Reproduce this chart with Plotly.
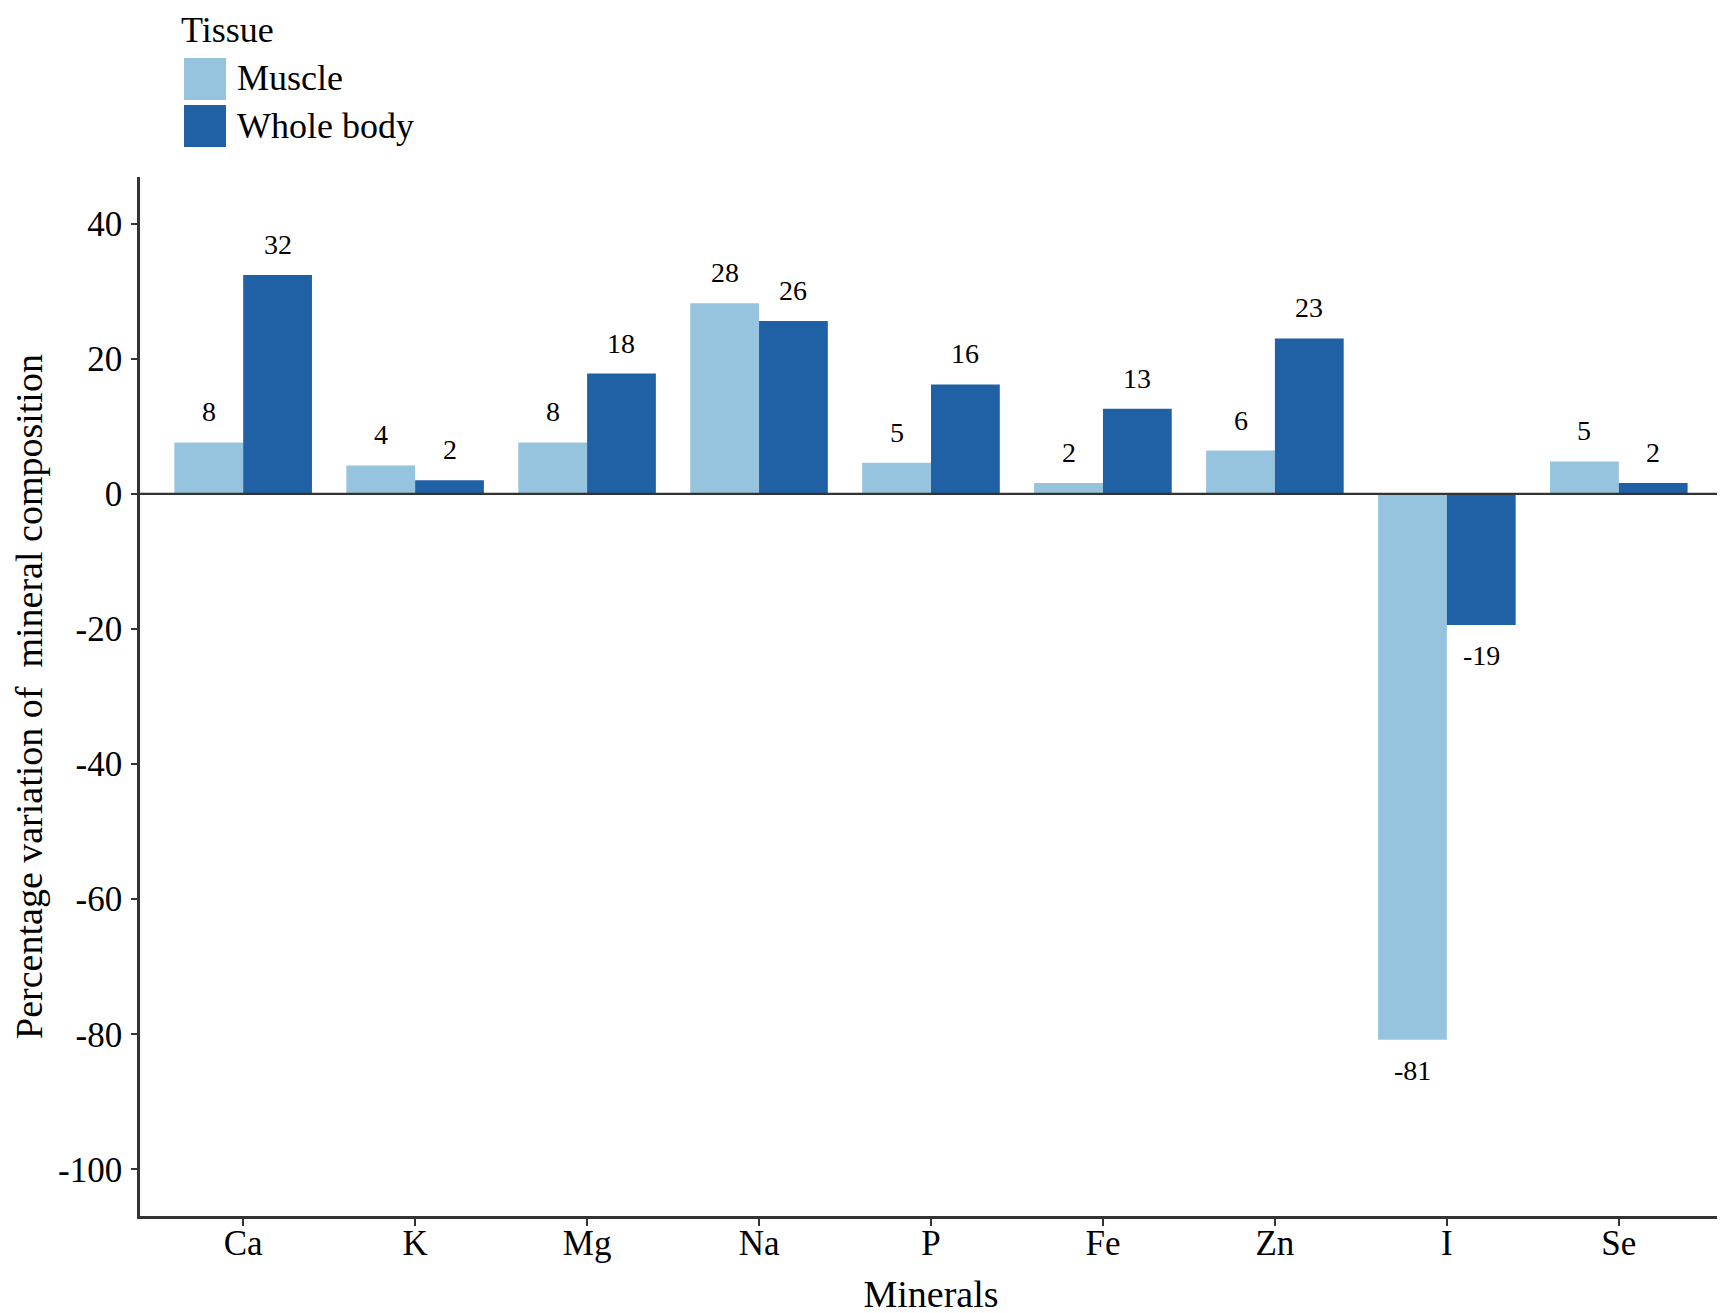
import plotly.graph_objects as go

minerals = ["Ca", "K", "Mg", "Na", "P", "Fe", "Zn", "I", "Se"]
muscle = [7.6, 4.2, 7.6, 28.2, 4.6, 1.6, 6.4, -80.8, 4.8]
whole_body = [32.4, 2.0, 17.8, 25.6, 16.2, 12.6, 23.0, -19.4, 1.6]
y_ticks = [40, 20, 0, -20, -40, -60, -80, -100]

C_MUSCLE = "#96c3dd"
C_WHOLE = "#2060a5"
FONT = "Liberation Serif, Times New Roman, serif"
AX = "#333333"

W, H = 1725, 1313
L, R, T, B = 132, 11, 169, 105
PW, PH = W - L - R, H - T - B


def xp(px):
    return (px - L) / PW


def yp(py):
    return (H - B - py) / PH


fig = go.Figure()
fig.add_trace(go.Bar(name="Muscle", x=minerals, y=muscle,
                     marker=dict(color=C_MUSCLE, line=dict(width=0))))
fig.add_trace(go.Bar(name="Whole body", x=minerals, y=whole_body,
                     marker=dict(color=C_WHOLE, line=dict(width=0))))

annotations = []
for series, off in ((muscle, -0.2), (whole_body, 0.2)):
    for i, v in enumerate(series):
        annotations.append(dict(
            x=i + off, y=v, xref="x", yref="y",
            text=f"{v:.0f}", showarrow=False,
            yanchor="bottom" if v >= 0 else "top",
            yshift=13 if v >= 0 else -13,
            font=dict(family=FONT, size=28, color="black")))

LEG = 36
annotations.append(dict(x=xp(171), y=yp(22), xref="paper", yref="paper",
                        text="Tissue", showarrow=False, xanchor="left",
                        yanchor="middle", font=dict(family=FONT, size=LEG, color="black")))
annotations.append(dict(x=xp(227), y=yp(70), xref="paper", yref="paper",
                        text="Muscle", showarrow=False, xanchor="left",
                        yanchor="middle", font=dict(family=FONT, size=LEG, color="black")))
annotations.append(dict(x=xp(227), y=yp(118), xref="paper", yref="paper",
                        text="Whole body", showarrow=False, xanchor="left",
                        yanchor="middle", font=dict(family=FONT, size=LEG, color="black")))

shapes = [
    dict(type="rect", xref="paper", yref="paper", x0=xp(176), x1=xp(218),
         y0=yp(92), y1=yp(50), fillcolor=C_MUSCLE, line=dict(width=0)),
    dict(type="rect", xref="paper", yref="paper", x0=xp(176), x1=xp(218),
         y0=yp(139), y1=yp(97), fillcolor=C_WHOLE, line=dict(width=0)),
    dict(type="line", xref="paper", yref="y", x0=0, x1=1, y0=0, y1=0,
         line=dict(color=AX, width=2.2), layer="above"),
]

fig.update_layout(
    width=W, height=H,
    margin=dict(l=L, r=R, t=T, b=B),
    paper_bgcolor="white", plot_bgcolor="white",
    barmode="group", bargap=0.2, bargroupgap=0,
    showlegend=False,
    font=dict(family=FONT, size=35, color="black"),
    annotations=annotations, shapes=shapes,
    xaxis=dict(
        range=[-0.6, 8.6], showgrid=False, zeroline=False,
        showline=True, linecolor=AX, linewidth=2.5,
        ticks="outside", ticklen=7, tickwidth=2, tickcolor=AX,
        tickfont=dict(family=FONT, size=35, color="black"),
        ticklabelstandoff=-13,
        title=dict(text="Minerals", font=dict(family=FONT, size=38, color="black"),
                   standoff=19),
    ),
    yaxis=dict(
        range=[-106.9, 46.9], tickvals=y_ticks,
        ticktext=[str(v) for v in y_ticks],
        showgrid=False, zeroline=False,
        showline=True, linecolor=AX, linewidth=2.5,
        ticks="outside", ticklen=6, tickwidth=2, tickcolor=AX,
        tickfont=dict(family=FONT, size=35, color="black"),
        ticklabelstandoff=2,
        title=dict(text="Percentage variation of\u00a0 mineral composition",
                   font=dict(family=FONT, size=38, color="black"), standoff=6),
    ),
)

fig.write_html("out.html")
